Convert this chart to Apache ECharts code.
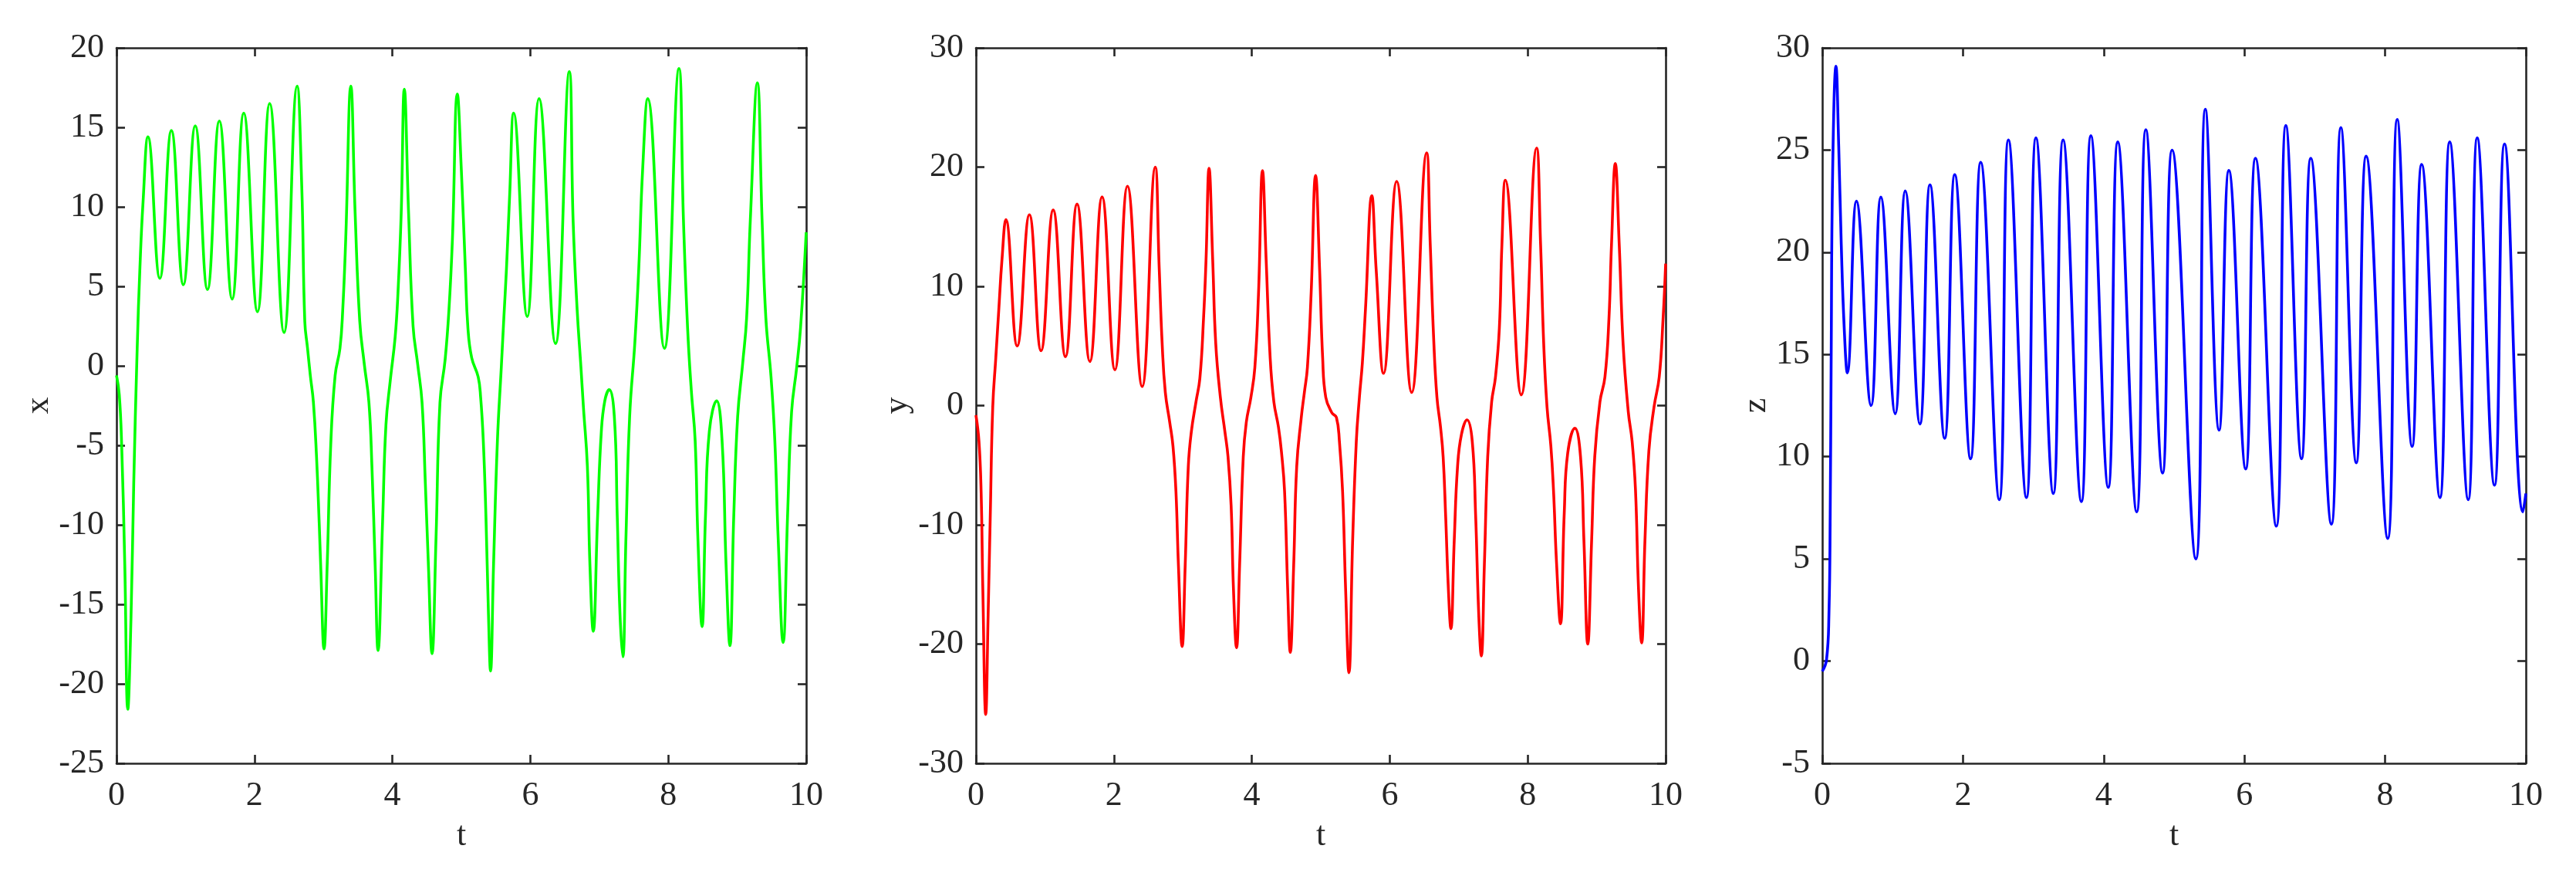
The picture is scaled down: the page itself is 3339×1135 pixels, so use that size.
<!DOCTYPE html>
<html>
<head>
<meta charset="utf-8">
<script src="https://cdn.jsdelivr.net/npm/echarts@6/dist/echarts.min.js"></script>
<style>
html,body{margin:0;padding:0;background:#fff;}
#chart{width:3339px;height:1135px;}
</style>
</head>
<body>
<div id="chart"></div>
<script>
// ---- data ----
var tX = [0,0.04,0.075,0.12,0.164,0.21,0.25,0.30,0.34,0.385,0.456,0.628,0.796,0.969,1.142,1.319,1.491,1.677,1.845,2.044,2.221,2.429,2.619,2.686,2.73,2.77,2.81,2.855,2.90,2.94,2.96,3.009,3.055,3.106,3.17,3.24,3.28,3.323,3.398,3.46,3.527,3.593,3.66,3.704,3.75,3.792,3.858,3.907,3.97,4.04,4.08,4.128,4.173,4.235,4.30,4.367,4.43,4.478,4.522,4.575,4.633,4.69,4.765,4.82,4.87,4.942,5.0,5.058,5.095,5.15,5.244,5.28,5.318,5.356,5.393,5.423,5.467,5.523,5.579,5.616,5.654,5.70,5.758,5.955,6.127,6.365,6.566,6.62,6.678,6.734,6.77,6.827,6.864,6.912,6.976,7.03,7.08,7.143,7.218,7.26,7.30,7.341,7.386,7.44,7.516,7.572,7.628,7.702,7.944,8.156,8.22,8.28,8.335,8.39,8.43,8.49,8.54,8.596,8.70,8.78,8.838,8.894,8.95,9.006,9.08,9.136,9.19,9.292,9.36,9.415,9.49,9.545,9.594,9.665,9.73,9.788,9.862,9.918,10];
var xV = [-0.6,-1.8,-5,-12.5,-21.6,-15.9,-7.4,1.1,6.2,10.3,14.4,5.5,14.8,5.1,15.1,4.8,15.4,4.2,15.9,3.4,16.5,2.1,17.6,11.3,2.8,1.1,-0.6,-2.3,-5.7,-10,-12.5,-17.8,-12.5,-5.0,-0.6,1.1,3.5,7.9,17.6,9.6,2.8,0.1,-2.3,-6.4,-12.5,-17.9,-9.8,-3.7,-0.9,1.8,4.5,9.6,17.4,9.6,2.5,0.1,-2.3,-7.4,-12.5,-18.1,-10.8,-2.3,0.4,3.5,7.9,17.1,12.3,6.1,2.4,0.5,-0.7,-2.0,-4.7,-9.4,-15.6,-19.2,-12.5,-4.7,-0.1,3.0,6.1,10.7,15.9,3.1,16.8,1.4,18.5,9.2,3.6,-0.1,-2.6,-6.3,-12.5,-16.7,-9.4,-4.1,-2.2,-1.5,-3.2,-9.4,-15.6,-18.3,-10.9,-3.2,1.5,6.1,12.3,16.8,1.1,18.7,9.2,2.4,-1.6,-4.7,-10.9,-16.4,-9.4,-4.1,-2.2,-4.7,-12.5,-17.6,-9.4,-3.2,0.2,3.0,9.2,17.8,9.2,3.0,-0.7,-4.7,-10.9,-17.4,-9.4,-2.9,-0.1,2.4,8.4];

var tY = [0,0.044,0.075,0.10,0.142,0.177,0.208,0.244,0.288,0.332,0.377,0.434,0.598,0.775,0.944,1.12,1.298,1.466,1.652,1.829,2.015,2.197,2.41,2.60,2.658,2.70,2.746,2.81,2.857,2.90,2.936,2.99,3.034,3.079,3.123,3.19,3.247,3.30,3.336,3.38,3.433,3.477,3.544,3.61,3.655,3.70,3.734,3.778,3.823,3.876,3.92,3.987,4.044,4.097,4.155,4.208,4.266,4.32,4.386,4.43,4.475,4.52,4.558,4.607,4.651,4.717,4.762,4.806,4.86,4.925,4.983,5.027,5.072,5.16,5.227,5.27,5.316,5.36,5.408,5.462,5.515,5.56,5.603,5.648,5.74,5.803,5.91,6.10,6.318,6.535,6.587,6.636,6.684,6.736,6.774,6.81,6.85,6.886,6.935,6.983,7.04,7.12,7.196,7.245,7.29,7.327,7.372,7.42,7.477,7.533,7.589,7.626,7.675,7.907,8.13,8.187,8.232,8.28,8.336,8.374,8.419,8.475,8.53,8.58,8.684,8.766,8.815,8.871,8.927,8.972,9.047,9.12,9.178,9.215,9.27,9.327,9.383,9.458,9.514,9.563,9.607,9.652,9.70,9.757,9.832,9.907,9.963,10];
var yV = [-0.8,-3.0,-7.2,-15.4,-25.9,-17.5,-9.2,-0.1,4.0,8.1,12.2,15.6,5.0,16.0,4.6,16.4,4.1,16.9,3.7,17.5,3.0,18.4,1.6,20.0,11.4,5.2,1.1,-1.4,-3.4,-7.2,-13.4,-20.2,-13.4,-5.1,-2.2,0.3,2.3,7.3,12.2,19.9,12.2,5.2,0.7,-2.2,-4.3,-8.4,-15.4,-20.3,-13.4,-4.3,-1.4,0.7,3.2,9.4,19.7,12.2,4.0,0.3,-1.8,-3.9,-7.2,-15.4,-20.7,-13.4,-5.1,-1.0,1.1,3.2,9.4,19.3,11.4,4.0,0.7,-0.6,-1.0,-3.0,-7.2,-15.4,-22.4,-11.3,-3.0,0.7,3.6,8.1,17.6,11.4,2.7,18.8,1.1,21.2,13.5,5.7,0.7,-1.8,-4.3,-9.2,-15.4,-18.7,-11.3,-5.1,-2.4,-1.2,-3.0,-9.2,-17.5,-21.0,-13.3,-4.3,0.3,2.4,6.5,13.5,18.9,0.9,21.6,13.5,5.2,-0.1,-3.4,-7.1,-13.3,-18.3,-9.0,-4.0,-1.9,-4.3,-11.3,-20.0,-11.3,-4.3,0.3,2.4,7.3,13.5,20.3,13.5,5.2,-0.5,-3.0,-7.1,-15.4,-19.9,-11.3,-3.8,-0.1,2.4,7.3,11.9];

var tZ = [0,0.06,0.095,0.113,0.126,0.148,0.195,0.234,0.27,0.312,0.356,0.486,0.694,0.833,1.037,1.18,1.388,1.531,1.74,1.883,2.108,2.252,2.516,2.646,2.902,3.037,3.284,3.423,3.683,3.818,4.065,4.2,4.469,4.599,4.837,4.972,5.31,5.445,5.64,5.779,6.018,6.157,6.453,6.589,6.812,6.943,7.236,7.371,7.59,7.73,8.037,8.172,8.384,8.519,8.779,8.918,9.181,9.309,9.554,9.697,9.96,10];
var zV = [-0.5,0.05,2.3,7.2,14.4,24.0,29.1,25.2,20.4,16.3,14.1,22.5,12.5,22.7,12.1,23.0,11.6,23.3,10.9,23.8,9.9,24.4,7.9,25.5,8.0,25.6,8.2,25.5,7.8,25.7,8.5,25.4,7.3,26.0,9.2,25.0,5.0,27.0,11.3,24.0,9.4,24.6,6.6,26.2,9.9,24.6,6.7,26.1,9.7,24.7,6.0,26.5,10.5,24.3,8.0,25.4,7.9,25.6,8.6,25.3,7.3,8.2];

var xTicks = [0, 2, 4, 6, 8, 10];
var axisNames = ['x', 'y', 'z'];
var yRanges = [[-25, 20, 5], [-30, 30, 10], [-5, 30, 5]];
var seriesColors = ['#00ff00', '#ff0000', '#0000ff'];

function pairs(t, v) { return t.map(function (tt, i) { return [tt, v[i]]; }); }
var dataSets = [pairs(tX, xV), pairs(tY, yV), pairs(tZ, zV)];

var FONT = 'Liberation Serif';
var AX = '#262626';
var grids = [
  {left: 151, top: 62, width: 894, height: 927},
  {left: 1265, top: 62, width: 894, height: 927},
  {left: 2362, top: 62, width: 912, height: 927}
];
var yNameGaps = [76, 80, 60];

var xAxes = [], yAxes = [], series = [];
for (var i = 0; i < 3; i++) {
  var common = {
    gridIndex: i, type: 'value', min: xTicks[0], max: xTicks[xTicks.length - 1], interval: 2,
    axisLine: {show: true, onZero: false, lineStyle: {color: AX, width: 2.6}},
    axisTick: {show: true, inside: true, length: 11, lineStyle: {color: AX, width: 2.6}},
    splitLine: {show: false}
  };
  xAxes.push(Object.assign({}, common, {
    position: 'bottom',
    name: 't', nameLocation: 'middle', nameGap: 72,
    nameTextStyle: {fontFamily: FONT, fontSize: 44, color: AX},
    axisLabel: {show: true, fontFamily: FONT, fontSize: 44, color: AX, margin: 20}
  }));
  xAxes.push(Object.assign({}, common, {position: 'top', axisLabel: {show: false}}));
  var r = yRanges[i];
  var ycommon = {
    gridIndex: i, type: 'value', min: r[0], max: r[1], interval: r[2],
    axisLine: {show: true, onZero: false, lineStyle: {color: AX, width: 2.6}},
    axisTick: {show: true, inside: true, length: 11, lineStyle: {color: AX, width: 2.6}},
    splitLine: {show: false}
  };
  yAxes.push(Object.assign({}, ycommon, {
    position: 'left',
    name: axisNames[i], nameLocation: 'middle', nameGap: yNameGaps[i], nameRotate: 90,
    nameTextStyle: {fontFamily: FONT, fontSize: 44, color: AX},
    axisLabel: {show: true, fontFamily: FONT, fontSize: 44, color: AX, margin: 16}
  }));
  yAxes.push(Object.assign({}, ycommon, {position: 'right', axisLabel: {show: false}}));
  series.push({
    type: 'line', xAxisIndex: i * 2, yAxisIndex: i * 2,
    data: dataSets[i], showSymbol: false, smooth: 0.45,
    lineStyle: {color: seriesColors[i], width: 3.6}, itemStyle: {color: seriesColors[i]},
    clip: true
  });
}

var chart = echarts.init(document.getElementById('chart'), null, {renderer: 'canvas'});
chart.setOption({
  backgroundColor: '#ffffff',
  animation: false,
  grid: grids,
  xAxis: xAxes,
  yAxis: yAxes,
  series: series
});
</script>
</body>
</html>
